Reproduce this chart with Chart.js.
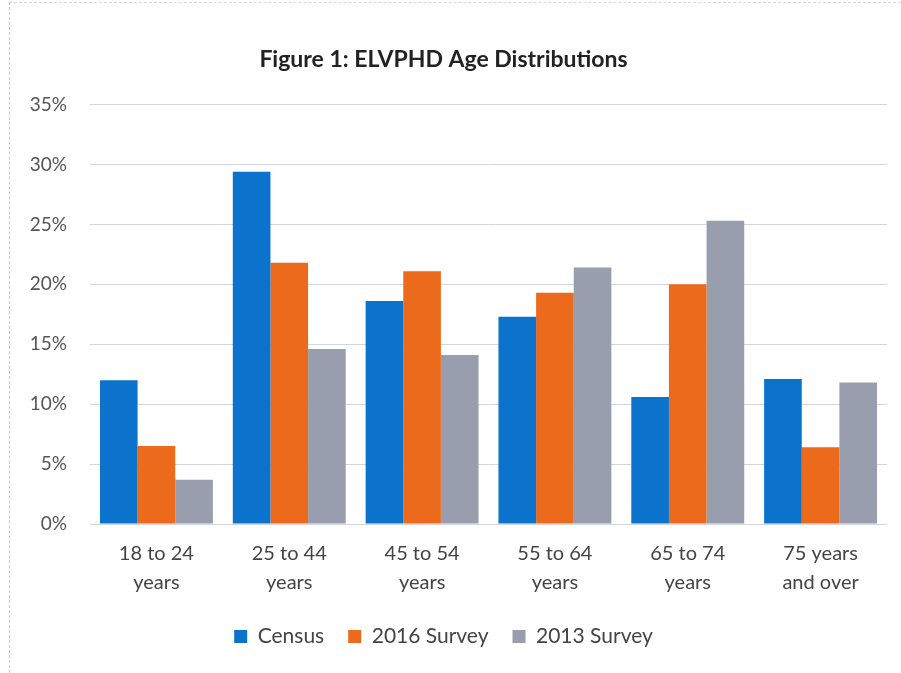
<!DOCTYPE html>
<html>
<head>
<meta charset="utf-8">
<script src="https://cdn.jsdelivr.net/npm/chart.js@4/dist/chart.umd.min.js"></script>
<style>
  html, body { margin: 0; padding: 0; background: #fff; }
  #wrap { position: relative; width: 901px; height: 673px; }
  #frame { position: absolute; left: 9px; top: 2px; right: 0; bottom: 0; border-left: 1px dashed #c8c8c8; border-top: 1px dashed #d8d8d8; pointer-events: none; }
</style>
</head>
<body>
<div id="wrap">
  <canvas id="chart" width="901" height="673"></canvas>
  <div id="frame"></div>
</div>
<script>
// age groups
var categories = [["18 to 24", "years"], ["25 to 44", "years"], ["45 to 54", "years"],
                  ["55 to 64", "years"], ["65 to 74", "years"], ["75 years", "and over"]];

// percent of population
var census = [12.0, 29.4, 18.6, 17.3, 10.6, 12.1];
var survey2016 = [6.5, 21.8, 21.1, 19.3, 20.0, 6.4];
var survey2013 = [3.7, 14.6, 14.1, 21.4, 25.3, 11.8];

var yTicks = [0, 5, 10, 15, 20, 25, 30, 35];

var font = "Lato, 'Open Sans', sans-serif";

new Chart(document.getElementById("chart"), {
  type: 'bar',
  data: {
    labels: categories,
    datasets: [
      { label: "Census", data: census, backgroundColor: "#0b73cc" },
      { label: "2016 Survey", data: survey2016, backgroundColor: "#ec6a1c" },
      { label: "2013 Survey", data: survey2013, backgroundColor: "#999eae" }
    ]
  },
  options: {
    responsive: false,
    animation: false,
    categoryPercentage: 0.85,
    barPercentage: 1.0,
    layout: { padding: { left: 0, right: 14, top: 0, bottom: 16 } },
    plugins: {
      title: {
        display: true,
        text: "Figure 1: ELVPHD Age Distributions",
        color: "#222",
        font: { family: font, size: 23, weight: 'bold' },
        padding: { top: 46, bottom: 31 }
      },
      legend: {
        position: 'bottom',
        labels: {
          color: "#444",
          font: { family: font, size: 21 },
          boxWidth: 13,
          boxHeight: 13,
          padding: 24
        }
      },
      tooltip: { enabled: false }
    },
    scales: {
      x: {
        grid: { display: false },
        border: { display: false },
        ticks: {
          color: "#444",
          font: { family: font, size: 20, lineHeight: 1.45 },
          padding: 7,
          maxRotation: 0
        },
        afterFit: function(scale) { scale.height = 78; }
      },
      y: {
        min: 0,
        max: 35,
        afterBuildTicks: function(scale) {
          scale.ticks = yTicks.map(function(v) { return { value: v }; });
        },
        grid: { color: "#d3d5de", drawTicks: false },
        border: { display: false },
        ticks: {
          color: "#555",
          font: { family: font, size: 19 },
          padding: 23,
          callback: function(v) { return v + "%"; }
        },
        afterFit: function(scale) { scale.width = 90; }
      }
    }
  }
});
</script>
</body>
</html>
